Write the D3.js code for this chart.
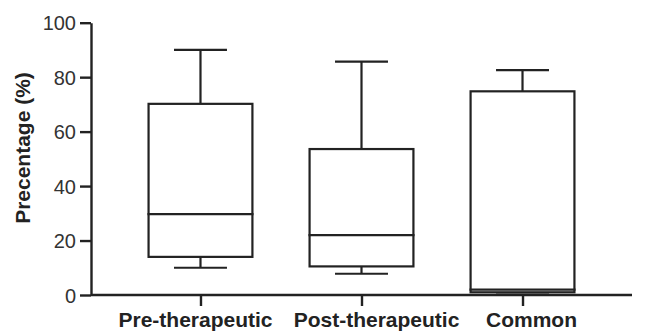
<!DOCTYPE html>
<html>
<head>
<meta charset="utf-8">
<script src="https://cdn.jsdelivr.net/npm/d3@7"></script>
<style>
  body { margin: 0; background: #fff; }
  svg { display: block; font-family: "Liberation Sans", Arial, sans-serif; }
</style>
</head>
<body>
<svg width="646" height="335"></svg>
<script>
// categories and box statistics
var groups = ["Pre-therapeutic", "Post-therapeutic", "Common"];
var lowWhisker = [10, 7.8, 1];
var q1 = [14, 10.5, 1];
var median = [29.7, 22, 2];
var q3 = [70.2, 53.6, 74.8];
var highWhisker = [90, 85.7, 82.6];
var yTicks = [0, 20, 40, 60, 80, 100];

var data = groups.map(function(g, i) {
    return { name: g, lo: lowWhisker[i], q1: q1[i], med: median[i], q3: q3[i], hi: highWhisker[i] };
});

var ink = "#222";
// the category labels are not quite centred under their ticks in the original
var labelNudge = { "Pre-therapeutic": -5, "Post-therapeutic": 15, "Common": 9 };

var svg = d3.select("svg");

var x = d3.scalePoint()
    .domain(groups)
    .range([91, 632])
    .padding(0.68);

var y = d3.scaleLinear()
    .domain([0, 100])
    .range([295, 22.7]);

var boxW = x.step() * 0.645;
var capW = boxW * 0.51;

// y axis
var yAxis = svg.append("g")
    .attr("transform", "translate(91,0)")
    .call(d3.axisLeft(y).tickValues(yTicks).tickSize(11).tickPadding(4).tickSizeOuter(0));
yAxis.select(".domain").attr("stroke", ink).attr("stroke-width", 2.4);
yAxis.selectAll(".tick line").attr("stroke", ink).attr("stroke-width", 2.4);
yAxis.selectAll(".tick text")
    .attr("fill", "#333")
    .style("font-size", "20px")
    .attr("dy", "0.36em");

// x axis
var xAxis = svg.append("g")
    .attr("transform", "translate(0," + y(0) + ")")
    .call(d3.axisBottom(x).tickSize(11).tickSizeOuter(0).tickFormat(""));
xAxis.select(".domain").attr("d", "M91,0H632").attr("stroke", ink).attr("stroke-width", 2.4);
xAxis.selectAll(".tick line").attr("stroke", ink).attr("stroke-width", 2.4);

svg.append("g").selectAll("text")
    .data(groups)
    .join("text")
    .attr("x", function(d) { return x(d) + labelNudge[d]; })
    .attr("y", 327)
    .attr("text-anchor", "middle")
    .attr("fill", ink)
    .style("font-size", "21px")
    .style("font-weight", "bold")
    .text(function(d) { return d; });

// y label
svg.append("text")
    .attr("transform", "translate(30," + 148 + ") rotate(-90)")
    .attr("text-anchor", "middle")
    .attr("fill", ink)
    .style("font-size", "21px")
    .style("font-weight", "bold")
    .text("Precentage (%)");

// boxes
var box = svg.append("g").selectAll("g")
    .data(data)
    .join("g")
    .attr("fill", "none")
    .attr("stroke", ink)
    .attr("stroke-width", 2.2);

// whiskers
box.append("line")
    .attr("x1", function(d) { return x(d.name); })
    .attr("x2", function(d) { return x(d.name); })
    .attr("y1", function(d) { return y(d.hi); })
    .attr("y2", function(d) { return y(d.q3); });
box.append("line")
    .attr("x1", function(d) { return x(d.name); })
    .attr("x2", function(d) { return x(d.name); })
    .attr("y1", function(d) { return y(d.lo); })
    .attr("y2", function(d) { return y(d.q1); });
box.append("line")
    .attr("x1", function(d) { return x(d.name) - capW / 2; })
    .attr("x2", function(d) { return x(d.name) + capW / 2; })
    .attr("y1", function(d) { return y(d.hi); })
    .attr("y2", function(d) { return y(d.hi); });
box.append("line")
    .attr("x1", function(d) { return x(d.name) - capW / 2; })
    .attr("x2", function(d) { return x(d.name) + capW / 2; })
    .attr("y1", function(d) { return y(d.lo); })
    .attr("y2", function(d) { return y(d.lo); });

box.append("rect")
    .attr("x", function(d) { return x(d.name) - boxW / 2; })
    .attr("width", boxW)
    .attr("y", function(d) { return y(d.q3); })
    .attr("height", function(d) { return y(d.q1) - y(d.q3); })
    .attr("fill", "#fff");

box.append("line")
    .attr("stroke-linecap", "square")
    .attr("x1", function(d) { return x(d.name) - boxW / 2; })
    .attr("x2", function(d) { return x(d.name) + boxW / 2; })
    .attr("y1", function(d) { return y(d.med); })
    .attr("y2", function(d) { return y(d.med); });
</script>
</body>
</html>
